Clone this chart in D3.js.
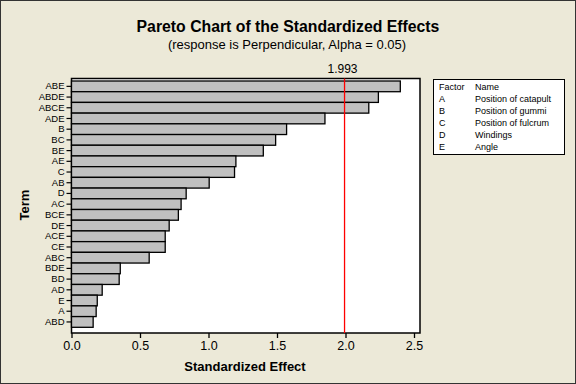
<!DOCTYPE html>
<html>
<head>
<meta charset="utf-8">
<script src="https://cdn.jsdelivr.net/npm/d3@7"></script>
<style>
  body { margin: 0; padding: 0; }
  svg { display: block; }
</style>
</head>
<body>
<div id="chart"></div>
<script>
// terms sorted as shown, top to bottom
const terms = ["ABE", "ABDE", "ABCE", "ADE", "B", "BC", "BE", "AE", "C", "AB", "D", "AC",
               "BCE", "DE", "ACE", "CE", "ABC", "BDE", "BD", "AD", "E", "A", "ABD"];
const effects = [2.40, 2.24, 2.17, 1.85, 1.57, 1.49, 1.40, 1.20, 1.19, 1.005, 0.837, 0.80,
                 0.78, 0.713, 0.684, 0.684, 0.567, 0.356, 0.348, 0.224, 0.188, 0.180, 0.158];
const xTicks = [0, 0.5, 1.0, 1.5, 2.0, 2.5];
const critical = 1.993;
const factors = ["A", "B", "C", "D", "E"];
const factorNames = ["Position of catapult", "Position of gummi", "Position of fulcrum", "Windings", "Angle"];

const W = 576, H = 384;
const font = "Liberation Sans, Arial, sans-serif";

const svg = d3.select("#chart").append("svg")
    .attr("width", W).attr("height", H);

// background
svg.append("rect")
    .attr("x", 0.5).attr("y", 0.5)
    .attr("width", W - 1).attr("height", H - 1)
    .attr("fill", "#ECE9D8")
    .attr("stroke", "#333");

const plot = {left: 71.5, top: 78.5, right: 420, bottom: 333};

const x = d3.scaleLinear().domain([0, 2.5]).range([plot.left, 414]);
const y = d3.scaleBand().domain(terms).range([81, 327.3]).padding(0);

// plot area
svg.append("rect")
    .attr("x", plot.left).attr("y", plot.top)
    .attr("width", plot.right - plot.left).attr("height", plot.bottom - plot.top)
    .attr("fill", "#fff")
    .attr("stroke", "#000")
    .attr("stroke-width", 1.5);

// bars
svg.append("g")
    .selectAll("rect")
    .data(terms)
    .enter()
    .append("rect")
    .attr("x", x(0))
    .attr("y", d => y(d))
    .attr("width", (d, i) => x(effects[i]) - x(0))
    .attr("height", y.bandwidth())
    .attr("fill", "#C0C0C0")
    .attr("stroke", "#000")
    .attr("stroke-width", 1.3);

// reference line
svg.append("line")
    .attr("x1", x(critical)).attr("x2", x(critical))
    .attr("y1", plot.top).attr("y2", plot.bottom)
    .attr("stroke", "#FF0000")
    .attr("stroke-width", 1.3);

svg.append("text")
    .attr("x", x(critical) - 2).attr("y", 73)
    .attr("text-anchor", "middle")
    .attr("font-family", font)
    .attr("font-size", 12)
    .text(critical.toFixed(3));

// x axis
const xAxis = svg.append("g")
    .attr("transform", `translate(0, ${plot.bottom})`)
    .call(d3.axisBottom(x).tickValues(xTicks).tickFormat(d3.format(".1f")).tickSizeOuter(0).tickSize(5));
xAxis.select(".domain").remove();
xAxis.selectAll("line").attr("stroke", "#000").attr("stroke-width", 1.3);
xAxis.selectAll("text")
    .attr("font-family", font)
    .attr("font-size", 12.5)
    .attr("fill", "#000")
    .attr("dy", "0.9em")
    .attr("y", 6);

// y axis
const yAxis = svg.append("g")
    .attr("transform", `translate(${plot.left}, 0)`)
    .call(d3.axisLeft(y).tickSize(5).tickSizeOuter(0));
yAxis.select(".domain").remove();
yAxis.selectAll("line").attr("stroke", "#000").attr("stroke-width", 1.2);
yAxis.selectAll("text")
    .attr("font-family", font)
    .attr("font-size", 9.5)
    .attr("fill", "#000")
    .attr("x", -7);

// titles
svg.append("text")
    .attr("x", 288).attr("y", 32)
    .attr("text-anchor", "middle")
    .attr("font-family", font)
    .attr("font-weight", "bold")
    .attr("font-size", 15.8)
    .text("Pareto Chart of the Standardized Effects");

svg.append("text")
    .attr("x", 287).attr("y", 49)
    .attr("text-anchor", "middle")
    .attr("font-family", font)
    .attr("font-size", 13)
    .text("(response is Perpendicular, Alpha = 0.05)");

svg.append("text")
    .attr("x", 245).attr("y", 371)
    .attr("text-anchor", "middle")
    .attr("font-family", font)
    .attr("font-weight", "bold")
    .attr("font-size", 13)
    .text("Standardized Effect");

svg.append("text")
    .attr("transform", "translate(29, 205) rotate(-90)")
    .attr("text-anchor", "middle")
    .attr("font-family", font)
    .attr("font-weight", "bold")
    .attr("font-size", 13)
    .text("Term");

// legend
const legend = svg.append("g").attr("transform", "translate(433, 79)");
legend.append("rect")
    .attr("x", 0.5).attr("y", 0.5)
    .attr("width", 131).attr("height", 75)
    .attr("fill", "#fff")
    .attr("stroke", "#000");

const legRows = [["Factor", "Name"]].concat(factors.map((f, i) => [f, factorNames[i]]));
legend.selectAll("g.row")
    .data(legRows)
    .enter()
    .append("g")
    .attr("class", "row")
    .attr("transform", (d, i) => `translate(0, ${11 + i * 12})`)
    .each(function(d) {
        const g = d3.select(this);
        g.append("text").attr("x", 6).text(d[0]);
        g.append("text").attr("x", 42).text(d[1]);
    })
    .selectAll("text")
    .attr("font-family", font)
    .attr("font-size", 9);
</script>
</body>
</html>
